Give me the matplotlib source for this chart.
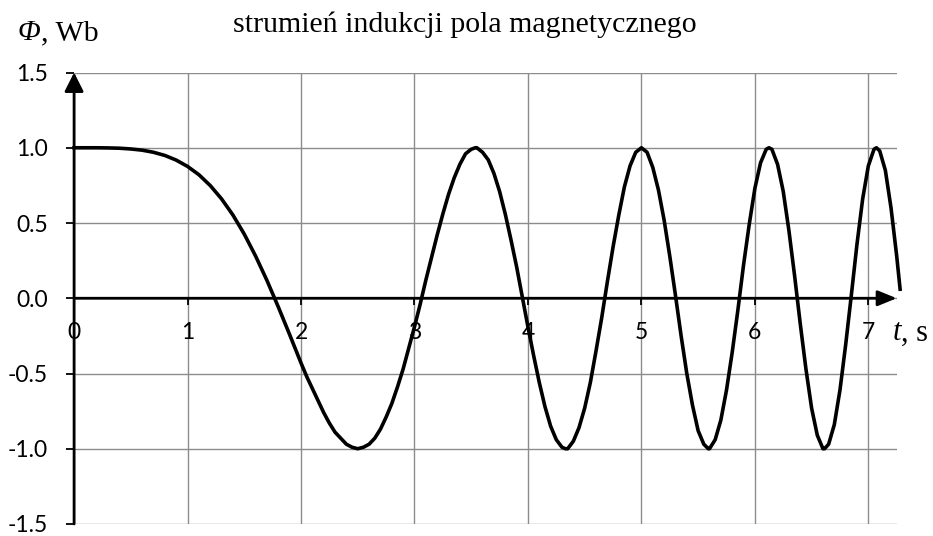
import matplotlib
matplotlib.use("Agg")
import matplotlib.pyplot as plt

# time (s) and magnetic flux (Wb)
t = [0.0, 0.1, 0.2, 0.3, 0.4, 0.5, 0.6, 0.7, 0.8, 0.9,
     1.0, 1.1, 1.2, 1.3, 1.4, 1.5, 1.6, 1.7, 1.8, 1.9,
     2.0, 2.05, 2.1, 2.15, 2.2, 2.25, 2.3, 2.35, 2.4, 2.45,
     2.5, 2.55, 2.6, 2.65, 2.7, 2.75, 2.8, 2.85, 2.9, 2.95,
     3.0, 3.05, 3.1, 3.15, 3.2, 3.25, 3.3, 3.35, 3.4, 3.45,
     3.5, 3.536, 3.55, 3.6, 3.65, 3.7, 3.75, 3.8, 3.85, 3.9, 3.95,
     4.0, 4.05, 4.1, 4.15, 4.2, 4.25, 4.3, 4.33, 4.35, 4.4, 4.45,
     4.5, 4.55, 4.6, 4.65, 4.7, 4.75, 4.8, 4.85, 4.9, 4.95,
     5.0, 5.05, 5.1, 5.15, 5.2, 5.25, 5.3, 5.35, 5.4, 5.45,
     5.5, 5.55, 5.59, 5.6, 5.65, 5.7, 5.75, 5.8, 5.85, 5.9, 5.95,
     6.0, 6.05, 6.1, 6.124, 6.15, 6.2, 6.25, 6.3, 6.35, 6.4, 6.45,
     6.5, 6.55, 6.6, 6.614, 6.65, 6.7, 6.75, 6.8, 6.85, 6.9, 6.95,
     7.0, 7.05, 7.071, 7.1, 7.15, 7.2, 7.25, 7.28]
phi = [1.000, 1.000, 1.000, 0.999, 0.997, 0.992, 0.984, 0.970, 0.949, 0.918,
       0.876, 0.821, 0.749, 0.660, 0.553, 0.426, 0.280, 0.118, -0.058, -0.242,
       -0.43, -0.52, -0.60, -0.68, -0.76, -0.83, -0.89, -0.93, -0.97, -0.99,
       -1.00, -0.99, -0.97, -0.93, -0.87, -0.79, -0.70, -0.59, -0.47, -0.33,
       -0.19, -0.04, 0.12, 0.27, 0.42, 0.56, 0.69, 0.80, 0.89, 0.96,
       0.99, 1.00, 1.00, 0.97, 0.92, 0.83, 0.71, 0.56, 0.39, 0.21, 0.01,
       -0.19, -0.38, -0.56, -0.72, -0.85, -0.94, -0.99, -1.00, -1.00, -0.95, -0.86,
       -0.73, -0.56, -0.35, -0.13, 0.11, 0.34, 0.55, 0.74, 0.88, 0.97,
       1.00, 0.97, 0.87, 0.72, 0.52, 0.28, 0.02, -0.25, -0.50, -0.71,
       -0.88, -0.97, -1.00, -1.00, -0.94, -0.81, -0.61, -0.36, -0.08, 0.22, 0.49,
       0.73, 0.90, 0.99, 1.00, 0.99, 0.89, 0.71, 0.45, 0.15, -0.17, -0.47,
       -0.73, -0.91, -1.00, -1.00, -0.97, -0.84, -0.61, -0.31, 0.02, 0.36, 0.66,
       0.88, 0.99, 1.00, 0.98, 0.85, 0.60, 0.28, 0.06]

x_ticks = [0, 1, 2, 3, 4, 5, 6, 7]
x_labels = ["0", "1", "2", "3", "4", "5", "6", "7"]
y_ticks = [-1.5, -1.0, -0.5, 0.0, 0.5, 1.0, 1.5]
y_labels = ["-1.5", "-1.0", "-0.5", "0.0", "0.5", "1.0", "1.5"]

title = "strumień indukcji pola magnetycznego"
serif = "Liberation Serif"
sans = "Lato"

fig = plt.figure(figsize=(9.33, 5.36), dpi=100)
ax = fig.add_axes([0.0794, 0.0224, 0.8817, 0.8423])
ax.set_xlim(0, 7.25)
ax.set_ylim(-1.5, 1.5)

for s in ax.spines.values():
    s.set_visible(False)

# grid
ax.set_xticks(x_ticks)
ax.set_xticklabels([])
ax.tick_params(axis="x", length=0)
ax.set_yticks(y_ticks)
ax.set_yticklabels(y_labels, fontfamily=sans, fontsize=16.5)
ax.tick_params(axis="y", direction="out", length=6, width=1.3, color="black", pad=13)
ax.grid(True, color="#8c8c8c", linewidth=1.0)
ax.set_axisbelow(True)

# axes with arrows
ax.annotate("", xy=(7.25, 0), xytext=(0, 0),
            arrowprops=dict(arrowstyle="-|>,head_length=1.15,head_width=0.47",
                            lw=2, color="black", mutation_scale=10,
                            shrinkA=0, shrinkB=0), annotation_clip=False)
ax.annotate("", xy=(0, 1.5), xytext=(0, -1.5),
            arrowprops=dict(arrowstyle="-|>,head_length=1.15,head_width=0.58",
                            lw=2, color="black", mutation_scale=10,
                            shrinkA=0, shrinkB=0), annotation_clip=False)

# ticks and labels on the time axis
ax.vlines(x_ticks[1:], -0.047, 0, color="black", linewidth=1.3)
for xt, lab in zip(x_ticks, x_labels):
    ax.text(xt, -0.23, lab, ha="center", va="center", fontfamily=sans, fontsize=16.5)

ax.plot(t, phi, color="black", linewidth=2.6, clip_on=False, zorder=5,
        solid_joinstyle="round")

# axis names: italic symbol followed by upright unit
t_sym = ax.text(7.215, -0.23, "t", ha="left", va="center", fontfamily=serif,
                fontsize=22, fontstyle="italic")
ax.annotate(", s", xy=(1, 0), xycoords=t_sym, ha="left", va="bottom",
            fontfamily=serif, fontsize=22)
phi_sym = fig.text(18 / 933, 0.938, "Φ", ha="left", va="center", fontfamily=serif,
                   fontsize=21.5, fontstyle="italic")
ax.annotate(", Wb", xy=(1, 0), xycoords=phi_sym, ha="left", va="bottom",
            fontfamily=serif, fontsize=21.5)
fig.text(465 / 933, 0.953, title, ha="center", va="center",
         fontfamily=serif, fontsize=21.5)

fig.savefig("out.png", dpi=100)
